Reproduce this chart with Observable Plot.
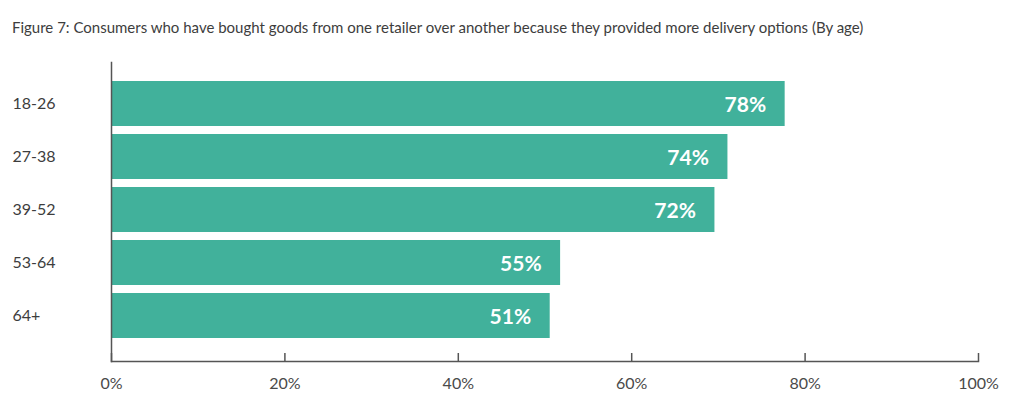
<!DOCTYPE html>
<html>
<head>
<meta charset="utf-8">
<script src="https://cdn.jsdelivr.net/npm/d3@7"></script>
<script src="https://cdn.jsdelivr.net/npm/@observablehq/plot@0.6"></script>
<style>
  html, body { margin: 0; padding: 0; background: #fff; }
  #wrap { position: relative; width: 1023px; height: 408px; overflow: hidden; font-family: Lato, sans-serif; }
  #title { position: absolute; left: 12px; top: 17px; font-size: 15px; line-height: 20px; color: #3d3d3d; white-space: nowrap; }
  #chart { position: absolute; left: 0; top: 50px; }
</style>
</head>
<body>
<div id="wrap">
  <div id="title">Figure 7: Consumers who have bought goods from one retailer over another because they provided more delivery options (By age)</div>
  <div id="chart"></div>
</div>
<script>
const ages = ["18-26", "27-38", "39-52", "53-64", "64+"];
const barValues = [77.7, 71.1, 69.6, 51.8, 50.6];
const valueLabels = ["78%", "74%", "72%", "55%", "51%"];
const xTicks = [0, 20, 40, 60, 80, 100];

const data = ages.map((a, i) => ({age: a, value: barValues[i], label: valueLabels[i]}));

const chart = Plot.plot({
  width: 1023,
  height: 358,
  marginLeft: 111,
  marginRight: 45,
  marginTop: 12,
  marginBottom: 47,
  style: {fontFamily: "Lato, sans-serif", fontSize: "16px", color: "#444", background: "#fff"},
  x: {domain: [0, 100]},
  y: {domain: ages, paddingInner: 0.155, paddingOuter: 0.077, insetTop: 15, insetBottom: 19},
  marks: [
    Plot.barX(data, {y: "age", x: "value", fill: "#41b19b"}),
    Plot.text(data, {y: "age", x: "value", text: "label", textAnchor: "end", dx: -19, dy: 1, fill: "#fff", fontWeight: "bold", fontSize: 21}),
    Plot.axisY({tickSize: 0, tickPadding: 0, textAnchor: "start", dx: -99, fill: "#3d3d3d", fontSize: 16, label: null}),
    Plot.axisX({ticks: xTicks, tickSize: -8, tickPadding: 24, tickFormat: d => d + "%", stroke: "#555", strokeWidth: 1.5, fill: "#4a4a4a", fontSize: 16, label: null}),
    Plot.frame({anchor: "bottom", stroke: "#555", strokeWidth: 1.5}),
    Plot.frame({anchor: "left", stroke: "#555", strokeWidth: 1.5})
  ]
});
document.getElementById("chart").appendChild(chart);
</script>
</body>
</html>
